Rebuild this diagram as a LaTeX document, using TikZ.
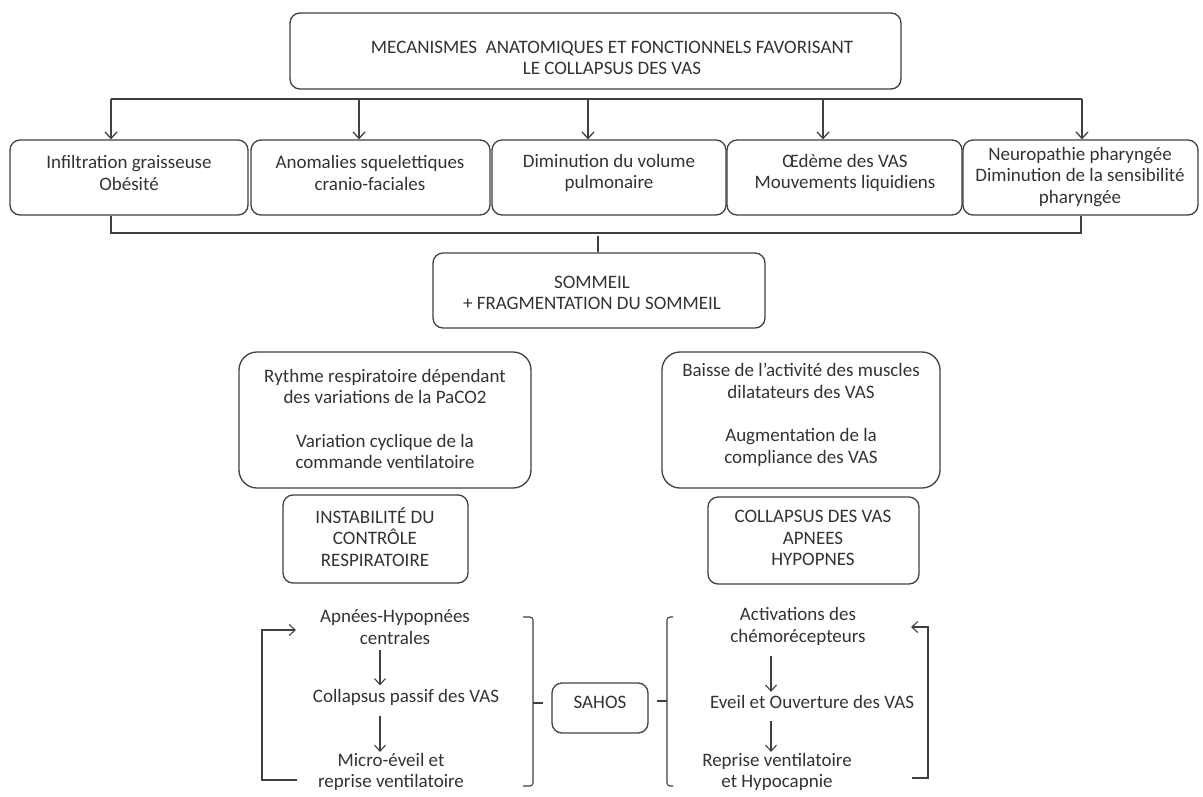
\documentclass[tikz,border=0pt]{standalone}
\usepackage{fontspec}
\setmainfont{Carlito}
\usetikzlibrary{arrows.meta}
\definecolor{linec}{gray}{0.25}
\definecolor{textc}{gray}{0.2}
\begin{document}
\begin{tikzpicture}[x=1pt,y=-1pt,
  ln/.style={draw=linec, line width=1.3pt},
  boxn/.style={ln, rounded corners=10pt, inner sep=0pt},
  bigbox/.style={ln, rounded corners=18pt, inner sep=0pt},
  txt/.style={text=textc, align=center, font=\fontsize{19}{21.5}\selectfont},
  arr/.style={ln, -{Straight Barb[length=6.5pt,width=12pt]}},
  thinarr/.style={draw=linec, line width=1.1pt, -{Straight Barb[length=6pt,width=11pt]}}]
\useasboundingbox (0,0) rectangle (1203,796);
\fill[white] (0,0) rectangle (1203,796);

% boxes
\node[boxn, minimum width=611pt, minimum height=76pt] (top) at (595.5,51) {};
\node[txt] (topT) at (612,58) {MECANISMES\ \ ANATOMIQUES ET FONCTIONNELS FAVORISANT\\LE COLLAPSUS DES VAS};

\node[boxn, minimum width=238pt, minimum height=75pt] (r1) at (129,177.5) {};
\node[boxn, minimum width=239pt, minimum height=75pt] (r2) at (370.5,177.5) {};
\node[boxn, minimum width=234pt, minimum height=75pt] (r3) at (609,177.5) {};
\node[boxn, minimum width=235pt, minimum height=75pt] (r4) at (844.5,177.5) {};
\node[boxn, minimum width=235pt, minimum height=75pt] (r5) at (1080.5,177.5) {};
\node[txt] (r1T) at (129,173) {Infiltration graisseuse\\Obésité};
\node[txt] (r2T) at (370,173) {Anomalies squelettiques\\cranio-faciales};
\node[txt] (r3T) at (609,173) {Diminution du volume\\pulmonaire};
\node[txt] (r4T) at (845,173) {Œdème des VAS\\Mouvements liquidiens};
\node[txt] (r5T) at (1080,177) {Neuropathie pharyngée\\Diminution de la sensibilité\\pharyngée};

\node[boxn, minimum width=332pt, minimum height=75pt] (som) at (599,290.5) {};
\node[txt] (somT) at (592,293) {SOMMEIL\\+ FRAGMENTATION DU SOMMEIL};

\node[bigbox, minimum width=292pt, minimum height=136pt] (ryt) at (385,420) {};
\node[txt] (rytT) at (385,419) {Rythme respiratoire dépendant\\des variations de la PaCO2\\[22pt]Variation cyclique de la\\commande ventilatoire};
\node[bigbox, minimum width=278pt, minimum height=136pt] (bai) at (801,420) {};
\node[txt] (baiT) at (801,415) {Baisse de l’activité des muscles\\dilatateurs des VAS\\[22pt]Augmentation de la\\compliance des VAS};

\node[boxn, minimum width=185pt, minimum height=88pt] (ins) at (375.5,539) {};
\node[txt] (insT) at (375,537) {INSTABILITÉ DU\\CONTRÔLE\\RESPIRATOIRE};
\node[boxn, minimum width=211pt, minimum height=87pt] (col) at (813.5,540.5) {};
\node[txt] (colT) at (813,538) {COLLAPSUS DES VAS\\APNEES\\HYPOPNES};

\node[boxn, minimum width=96pt, minimum height=50pt] (sah) at (600,708) {};
\node[txt] (sahT) at (600,702) {SAHOS};

% distribution line and arrows
\coordinate (h1) at (111,99);
\coordinate (h2) at (359,99);
\coordinate (h3) at (588,99);
\coordinate (h4) at (823,99);
\coordinate (h5) at (1082,99);
\draw[ln] (h1) -- (h5);
\draw[arr] (h1) -- (h1 |- r1.north);
\draw[arr] (h2) -- (h2 |- r2.north);
\draw[arr] (h3) -- (h3 |- r3.north);
\draw[arr] (h4) -- (h4 |- r4.north);
\draw[arr] (h5) -- (h5 |- r5.north);

% merge line
\coordinate (m1) at (111,233);
\coordinate (m5) at (1081,233);
\coordinate (ms) at (598,233);
\draw[ln] (r1.south -| m1) -- (m1) -- (m5) -- (r5.south -| m5);
\draw[ln] ([yshift=-3pt]ms) -- (som.north -| ms);

% left cycle
\node[txt] (a1) at (395,627) {Apnées-Hypopnées\\centrales};
\node[txt] (a2) at (406,697) {Collapsus passif des VAS};
\node[txt, inner ysep=1pt] (a3) at (391,772) {Micro-éveil et\\reprise ventilatoire};
\coordinate (la) at (380,0);
\draw[thinarr, shorten <=2pt] (a1.south -| la) -- (a2.north -| la);
\draw[thinarr, shorten <=7pt] (a2.south -| la) -- (a3.north -| la);
\coordinate (lb) at (297,780);
\coordinate (lt) at (296,630);
\coordinate (lx) at (262,0);
\draw[thinarr] (lb) -| (lx |- lt) -- (lt);

% right cycle
\node[txt] (b1) at (798,626.5) {Activations des\\chémorécepteurs};
\node[txt] (b2) at (812,702) {Eveil et Ouverture des VAS};
\node[txt, inner ysep=1pt] (b3) at (777,772) {Reprise ventilatoire\\et Hypocapnie};
\coordinate (ra) at (771,0);
\draw[thinarr, shorten <=7pt] (b1.south -| ra) -- (b2.north -| ra);
\draw[thinarr, shorten <=9pt] (b2.south -| ra) -- (b3.north -| ra);
\coordinate (rb) at (912,778);
\coordinate (rt) at (911,627);
\coordinate (rx) at (928,0);
\draw[thinarr] (rb) -| (rx |- rt) -- (rt);

% brackets
\coordinate (lbt) at (523,617);
\coordinate (lbb) at (523,786);
\coordinate (lbm) at (533,703);
\draw[draw=linec, line width=1.1pt, rounded corners=3pt] (lbt) -- (533,617) -- (533,786) -- (lbb);
\draw[draw=linec, line width=1.1pt] (lbm) -- ([xshift=10pt]lbm);
\coordinate (rbt) at (673,617);
\coordinate (rbb) at (673,786);
\coordinate (rbm) at (667,701);
\draw[draw=linec, line width=1.1pt, rounded corners=3pt] (rbt) -- (667,617) -- (667,786) -- (rbb);
\draw[draw=linec, line width=1.1pt] (rbm) -- ([xshift=-10pt]rbm);
\end{tikzpicture}
\end{document}
